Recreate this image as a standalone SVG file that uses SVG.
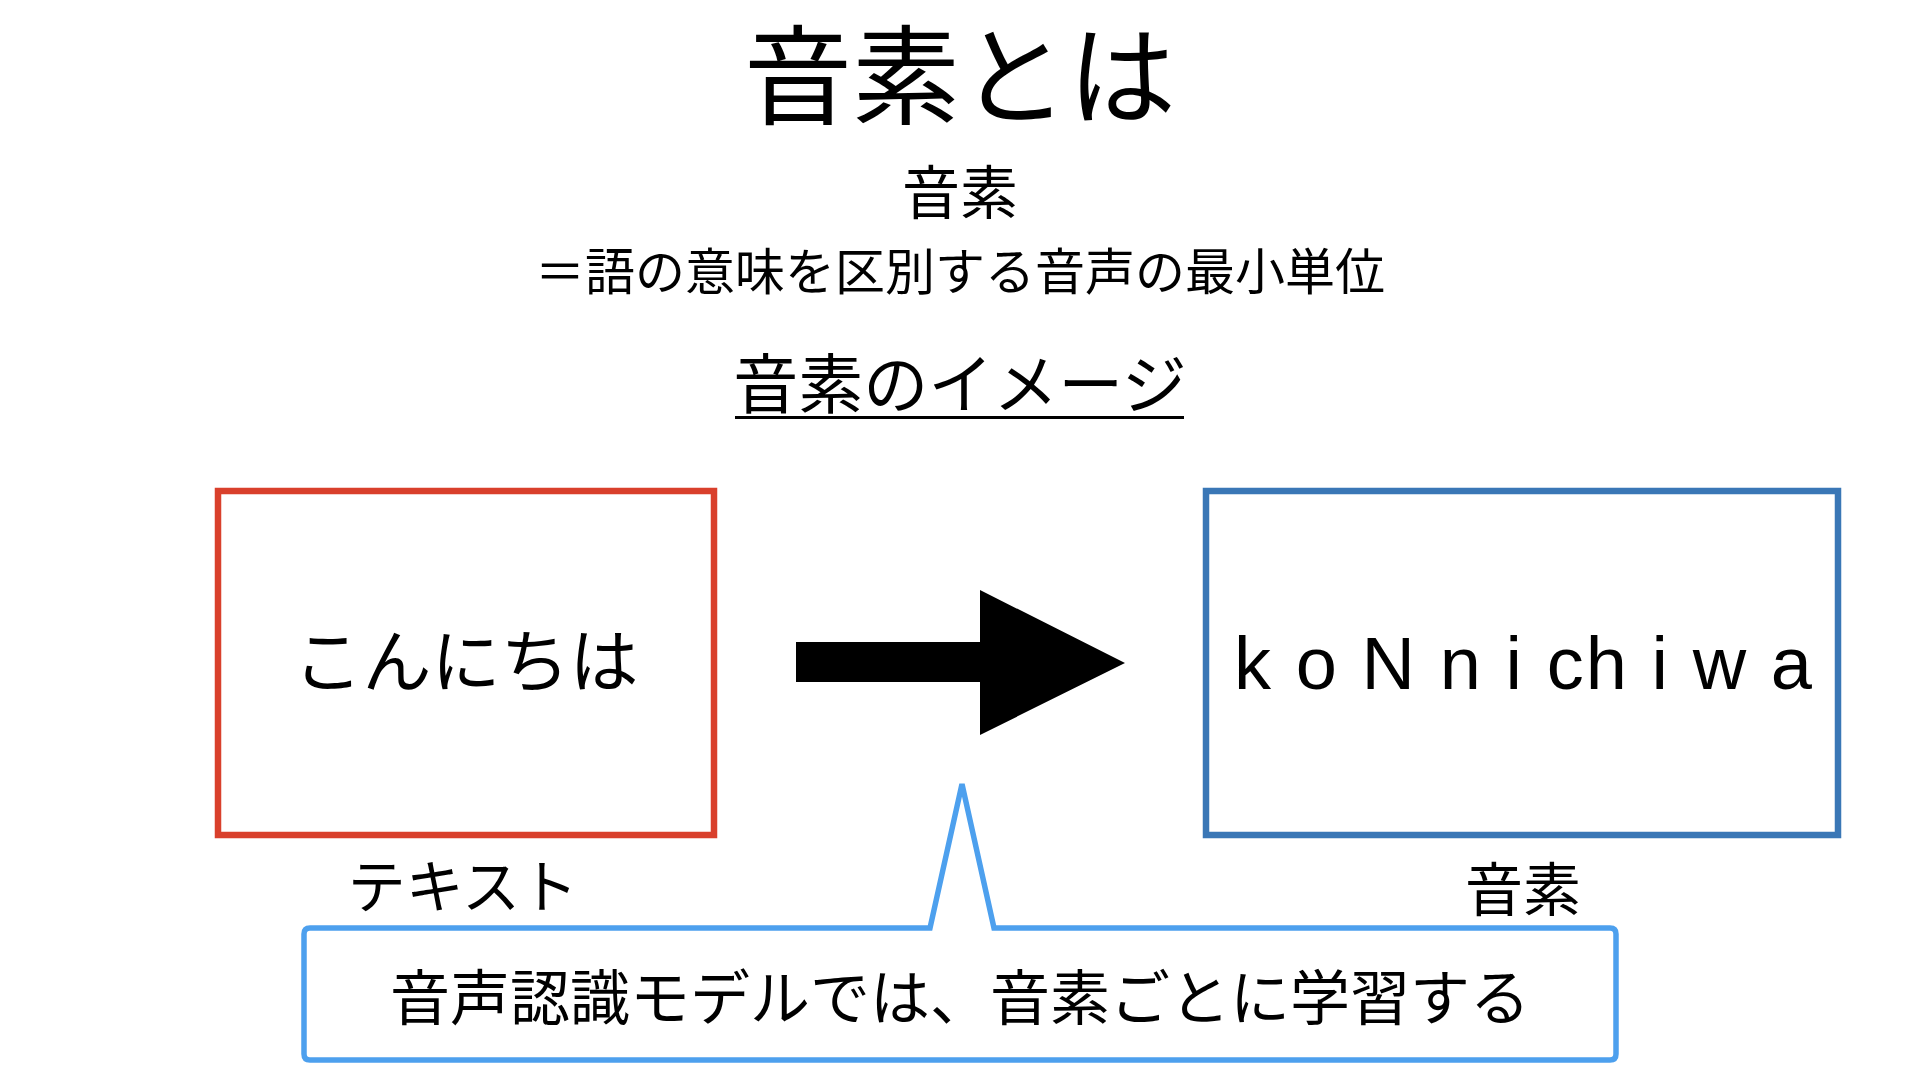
<svg xmlns="http://www.w3.org/2000/svg" width="1920" height="1080" viewBox="0 0 1920 1080">
<style>
.jp{font-family:"Noto Sans CJK JP","Noto Sans",sans-serif;fill:#000;text-anchor:middle}
.lat{font-family:"Liberation Sans",Arial,sans-serif;fill:#000}
.box{fill:none;stroke-width:6.5}
</style>
<rect width="1920" height="1080" fill="#fff"/>
<g id="title">
<text class="jp" x="960" y="116" font-size="108">音素とは</text>
</g>
<g id="definition">
<text class="jp" x="960" y="214" font-size="58">音素</text>
<text class="jp" x="960" y="290" font-size="50">＝語の意味を区別する音声の最小単位</text>
</g>
<g id="image-heading">
<text class="jp" x="960" y="408" font-size="65">音素のイメージ</text>
<line x1="735" y1="417.5" x2="1184" y2="417.5" stroke="#000" stroke-width="3"/>
</g>
<g id="text-node">
<rect class="box" x="218" y="491" width="496" height="344" stroke="#D9402C"/>
<text class="jp" x="466" y="687" font-size="69">こんにちは</text>
<text class="jp" x="463" y="908" font-size="58">テキスト</text>
</g>
<g id="phoneme-node">
<rect class="box" x="1206" y="491" width="632" height="344" stroke="#3A77B6"/>
<text class="lat" x="1234" y="689" font-size="74" textLength="578" lengthAdjust="spacing">k o N n i ch i w a</text>
<text class="jp" x="1523" y="911" font-size="58">音素</text>
</g>
<g id="connectors">
<polygon points="796,642 980,642 980,590 1125,663 980,735 980,682 796,682" fill="#000"/>
</g>
<g id="callout">
<path d="M310,928 H930 L962,784 L994,928 H1610 Q1616,928 1616,934 V1054 Q1616,1060 1610,1060 H310 Q304,1060 304,1054 V934 Q304,928 310,928 Z" fill="#fff" stroke="#4DA0EE" stroke-width="5.5" stroke-linejoin="miter"/>
<text class="jp" x="960" y="1020" font-size="60">音声認識モデルでは、音素ごとに学習する</text>
</g>
</svg>
